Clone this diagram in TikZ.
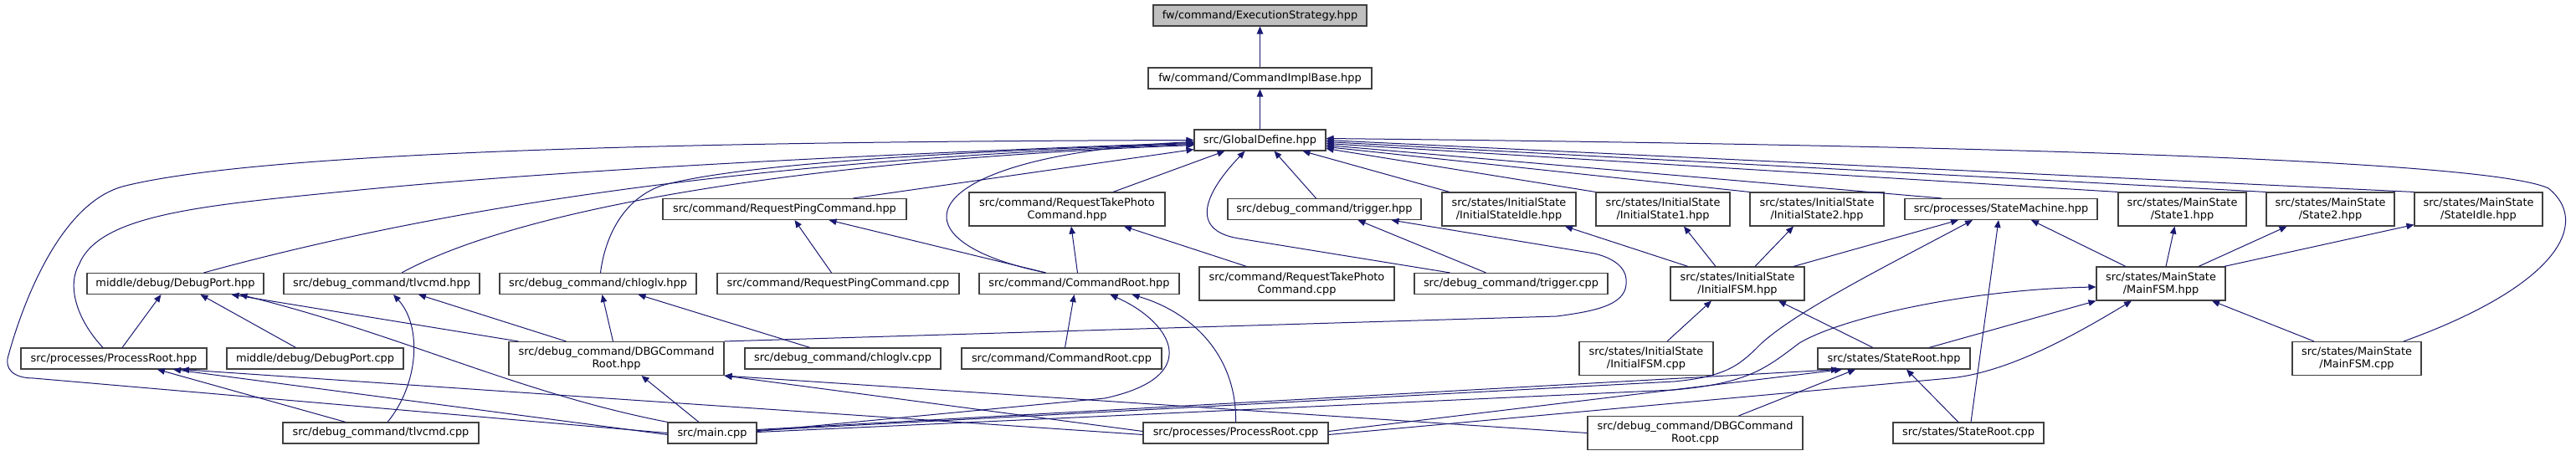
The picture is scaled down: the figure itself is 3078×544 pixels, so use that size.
\documentclass[tikz,border=0pt]{standalone}
\usepackage{fontspec}
\setmainfont{DejaVu Sans}
\usepackage{xcolor}
\definecolor{dxblue}{RGB}{25,25,112}
\definecolor{dxgrey}{RGB}{191,191,191}
\definecolor{dxframe}{RGB}{64,64,64}
\usetikzlibrary{arrows.meta}
\tikzset{
  file/.style ={rectangle,draw=dxframe,line width=1.1pt,fill=white,inner sep=0pt,
                align=center,minimum height=25pt,font=\fontsize{12.9}{15}\selectfont},
  file2/.style={file,minimum height=40pt},
  root/.style ={file,fill=dxgrey},
  inc/.style  ={{Triangle[length=9pt,width=7.5pt]}-,draw=dxblue,fill=none,line width=1pt},
}

\begin{document}
\begin{tikzpicture}[x=1pt,y=-1pt]
  \useasboundingbox (0,0) rectangle (3078,544);

  % ---- top of the include chain ----------------------------------------
  \node[root,minimum width=255pt] (es)  at (1505.5,18.5)  {fw/command/ExecutionStrategy.hpp};
  \node[file,minimum width=267pt] (cib) at (1505.5,93.5)  {fw/command/CommandImplBase.hpp};
  \node[file,minimum width=157pt] (gd)  at (1505.5,167.5) {src/GlobalDefine.hpp};

  % ---- level 3 -----------------------------------------------------------
  \node[file, minimum width=291pt] (rpch) at (937.5,250)  {src/command/RequestPingCommand.hpp};
  \node[file2,minimum width=234pt] (rtph) at (1275,250)   {src/command/RequestTakePhoto\\Command.hpp};
  \node[file, minimum width=231pt] (trgh) at (1582.5,250) {src/debug\_command/trigger.hpp};
  \node[file2,minimum width=160pt] (isih) at (1803,250)   {src/states/InitialState\\/InitialStateIdle.hpp};
  \node[file2,minimum width=160pt] (is1h) at (1987,250)   {src/states/InitialState\\/InitialState1.hpp};
  \node[file2,minimum width=160pt] (is2h) at (2171,250)   {src/states/InitialState\\/InitialState2.hpp};
  \node[file, minimum width=230pt] (smh)  at (2391,250)   {src/processes/StateMachine.hpp};
  \node[file2,minimum width=153pt] (ms1h) at (2607.5,250) {src/states/MainState\\/State1.hpp};
  \node[file2,minimum width=153pt] (ms2h) at (2784.5,250) {src/states/MainState\\/State2.hpp};
  \node[file2,minimum width=153pt] (msih) at (2961.5,250) {src/states/MainState\\/StateIdle.hpp};

  % ---- level 4 -----------------------------------------------------------
  \node[file, minimum width=211pt] (dph)   at (209.5,339)  {middle/debug/DebugPort.hpp};
  \node[file, minimum width=234pt] (tlvh)  at (456,339)    {src/debug\_command/tlvcmd.hpp};
  \node[file, minimum width=235pt] (chlh)  at (714.5,339)  {src/debug\_command/chloglv.hpp};
  \node[file, minimum width=289pt] (rpcc)  at (1001.5,339) {src/command/RequestPingCommand.cpp};
  \node[file, minimum width=239pt] (crh)   at (1289.5,339) {src/command/CommandRoot.hpp};
  \node[file2,minimum width=233pt] (rtpc)  at (1549.5,339) {src/command/RequestTakePhoto\\Command.cpp};
  \node[file, minimum width=231pt] (trgc)  at (1805.5,339) {src/debug\_command/trigger.cpp};
  \node[file2,minimum width=160pt] (ifsmh) at (2076,339)   {src/states/InitialState\\/InitialFSM.hpp};
  \node[file2,minimum width=154pt] (mfsmh) at (2582,339)   {src/states/MainState\\/MainFSM.hpp};

  % ---- level 5 -----------------------------------------------------------
  \node[file, minimum width=222pt] (prh)   at (136,428.5)  {src/processes/ProcessRoot.hpp};
  \node[file, minimum width=211pt] (dpc)   at (376.5,428.5){middle/debug/DebugPort.cpp};
  \node[file2,minimum width=257pt] (dbgh)  at (736.5,428.5){src/debug\_command/DBGCommand\\Root.hpp};
  \node[file, minimum width=234pt] (chlc)  at (1007,428.5) {src/debug\_command/chloglv.cpp};
  \node[file, minimum width=239pt] (crc)   at (1268.5,428.5){src/command/CommandRoot.cpp};
  \node[file2,minimum width=160pt] (ifsmc) at (1967,428.5) {src/states/InitialState\\/InitialFSM.cpp};
  \node[file, minimum width=182pt] (srh)   at (2263,428.5) {src/states/StateRoot.hpp};
  \node[file2,minimum width=154pt] (mfsmc) at (2816,428.5) {src/states/MainState\\/MainFSM.cpp};

  % ---- level 6 -----------------------------------------------------------
  \node[file, minimum width=234pt] (tlvc)  at (455,517.5)   {src/debug\_command/tlvcmd.cpp};
  \node[file, minimum width=106pt] (mainc) at (851,517.5)   {src/main.cpp};
  \node[file, minimum width=221pt] (prc)   at (1476.5,517.5){src/processes/ProcessRoot.cpp};
  \node[file2,minimum width=257pt] (dbgc)  at (2025.5,517.5){src/debug\_command/DBGCommand\\Root.cpp};
  \node[file, minimum width=180pt] (srcpp) at (2352,517.5)  {src/states/StateRoot.cpp};

  % ---- chain -------------------------------------------------------------
  \draw[inc] (es) -- (cib);
  \draw[inc] (cib) -- (gd);

  % ---- GlobalDefine, left side --------------------------------------------
  \draw[inc] (gd.west) .. controls (900,169) and (330,178) .. (150,222)
    .. controls (70,241) and (25,370) .. (10,425)
    .. controls (5,440) and (15,452) .. (40,452) -- (mainc.west);
  \draw[inc] ([yshift=-3pt]gd.west) .. controls (1000,186) and (650,205) .. (420,228)
    .. controls (250,245) and (120,255) .. (95,315)
    .. controls (80,340) and (90,380) .. ([xshift=-13pt]prh.north);
  \draw[inc] ([yshift=-5pt]gd.west) .. controls (1000,188) and (600,228) .. ([xshift=34pt]dph.north);
  \draw[inc] ([yshift=-6pt]gd.west) .. controls (950,192) and (620,250) .. ([xshift=24pt]tlvh.north);
  \draw[inc] ([yshift=-4pt]gd.west) .. controls (1000,186) and (850,205) .. (790,222)
    .. controls (740,240) and (722,290) .. ([xshift=3pt]chlh.north);
  \draw[inc] ([yshift=2pt]gd.south west) -- ([xshift=82pt]rpch.north);
  \draw[inc] ([yshift=-2pt]gd.west) .. controls (1100,185) and (1050,285) .. ([xshift=-40pt]crh.north);

  % ---- GlobalDefine, below ------------------------------------------------
  \draw[inc] ([xshift=-42pt]gd.south) -- ([xshift=55pt]rtph.north);
  \draw[inc] ([xshift=-18pt]gd.south) .. controls (1440,230) and (1420,275) .. (1480,285)
    -- ([xshift=-73pt]trgc.north);
  \draw[inc] ([xshift=17pt]gd.south) -- ([xshift=-10pt]trgh.north);
  \draw[inc] ([xshift=51pt]gd.south) -- ([xshift=-71pt]isih.north);

  % ---- GlobalDefine, right side -------------------------------------------
  \draw[inc] ([yshift=-10pt]gd.east) -- (is1h.north west);
  \draw[inc] ([yshift=-8pt]gd.east) -- (is2h.north west);
  \draw[inc] ([yshift=-6pt]gd.east) -- ([xshift=-71pt]smh.north);
  \draw[inc] ([yshift=-4pt]gd.east) -- (ms1h.north west);
  \draw[inc] ([yshift=-2pt]gd.east) -- (ms2h.north west);
  \draw[inc] (gd.east) -- (msih.north west);
  \draw[inc] ([yshift=2pt]gd.east) .. controls (2500,175) and (2980,195) .. (3045,225)
    .. controls (3095,265) and (3060,340) .. ([xshift=56pt]mfsmc.north);

  % ---- commands ------------------------------------------------------------
  \draw[inc] ([xshift=12pt]rpch.south) -- ([xshift=-8pt]rpcc.north);
  \draw[inc] ([xshift=53pt]rpch.south) -- ([xshift=-40pt]crh.north);
  \draw[inc] ([xshift=5pt]rtph.south) -- ([xshift=-2pt]crh.north);
  \draw[inc] ([xshift=68pt]rtph.south) -- ([xshift=-60pt]rtpc.north);
  \draw[inc] ([xshift=-6pt]crh.south) -- ([xshift=4pt]crc.north);
  \draw[inc] ([xshift=37pt]crh.south) .. controls (1400,385) and (1440,450) .. (1320,476)
    -- ([yshift=2pt]mainc.east);
  \draw[inc] ([xshift=63pt]crh.south) .. controls (1430,375) and (1478,430) .. (prc.north);
  \draw[inc] ([xshift=40pt]trgh.south) -- ([xshift=-30pt]trgc.north);
  \draw[inc] ([xshift=80pt]trgh.south) -- (1905,303) .. controls (1935,310) and (1945,325) .. (1943,340)
    .. controls (1941,365) and (1905,372) .. (1860,378) -- (dbgh.north east);

  % ---- states --------------------------------------------------------------
  \draw[inc] ([xshift=67pt]isih.south) -- ([xshift=-59pt]ifsmh.north);
  \draw[inc] ([xshift=25pt]is1h.south) -- ([xshift=-26pt]ifsmh.north);
  \draw[inc] ([xshift=-28pt]is2h.south) -- ([xshift=21pt]ifsmh.north);
  \draw[inc] ([xshift=-51pt]smh.south) -- ([xshift=67pt]ifsmh.north);
  \draw[inc] ([xshift=-34pt]smh.south) .. controls (2250,320) and (2150,370) .. (2105,410)
    .. controls (2080,435) and (2065,450) .. (2000,456) -- ([yshift=3pt]mainc.east);
  \draw[inc] ([xshift=-3pt]smh.south) -- ([xshift=3pt]srcpp.north);
  \draw[inc] ([xshift=36pt]smh.south) -- ([xshift=-42pt]mfsmh.north);
  \draw[inc] ([xshift=-9pt]ms1h.south) -- ([xshift=6pt]mfsmh.north);
  \draw[inc] ([xshift=-52pt]ms2h.south) -- ([xshift=45pt]mfsmh.north);
  \draw[inc] ([yshift=2pt]msih.south west) -- ([xshift=-2pt]mfsmh.north east);
  \draw[inc] ([xshift=-31pt]ifsmh.south) -- ([xshift=25pt]ifsmc.north);
  \draw[inc] ([xshift=49pt]ifsmh.south) -- ([xshift=-25pt]srh.north);
  \draw[inc] (mfsmh.south west) -- ([xshift=42pt]srh.north);
  \draw[inc] ([xshift=61pt]mfsmh.south) -- ([xshift=-51pt]mfsmc.north);
  \draw[inc] ([yshift=-4pt]mfsmh.west) .. controls (2350,346) and (2200,380) .. (2150,410)
    .. controls (2110,440) and (2090,458) .. (2000,466) -- ([yshift=1pt]mainc.east);
  \draw[inc] ([xshift=-35pt]mfsmh.south) .. controls (2480,400) and (2400,445) .. (2330,452)
    -- ([yshift=-2pt]prc.east);
  \draw[inc] ([xshift=-66pt]srh.south) -- ([yshift=4pt]mainc.east);
  \draw[inc] ([xshift=-62pt]srh.south) -- ([yshift=2pt]prc.east);
  \draw[inc] ([xshift=-46pt]srh.south) -- ([xshift=52pt]dbgc.north);
  \draw[inc] ([xshift=15pt]srh.south) -- ([xshift=-12pt]srcpp.north);

  % ---- debug side ------------------------------------------------------------
  \draw[inc] ([xshift=-17pt]dph.south) -- ([xshift=10pt]prh.north);
  \draw[inc] ([xshift=30pt]dph.south) -- ([xshift=-23pt]dpc.north);
  \draw[inc] ([xshift=67pt]dph.south) -- ([xshift=12pt]dbgh.north west);
  \draw[inc] ([xshift=77pt]dph.south) .. controls (480,400) and (620,470) .. (mainc.north west);
  \draw[inc] ([xshift=14pt]tlvh.south) .. controls (505,390) and (500,460) .. ([xshift=8pt]tlvc.north);
  \draw[inc] ([xshift=44pt]tlvh.south) -- ([xshift=-60pt]dbgh.north);
  \draw[inc] ([xshift=5pt]chlh.south) -- ([xshift=-4pt]dbgh.north);
  \draw[inc] ([xshift=48pt]chlh.south) -- ([xshift=-39pt]chlc.north);
  \draw[inc] ([xshift=52pt]prh.south) -- ([xshift=-42pt]tlvc.north);
  \draw[inc] ([xshift=71pt]prh.south) -- ([yshift=-2pt]mainc.west);
  \draw[inc] ([xshift=81pt]prh.south) -- ([yshift=-2pt]prc.west);
  \draw[inc] ([xshift=30pt]dbgh.south) -- ([xshift=-16pt]mainc.north);
  \draw[inc] (dbgh.south east) -- ([yshift=2pt]prc.west);
  \draw[inc] (dbgh.south east) -- (dbgc.west);
\end{tikzpicture}
\end{document}
